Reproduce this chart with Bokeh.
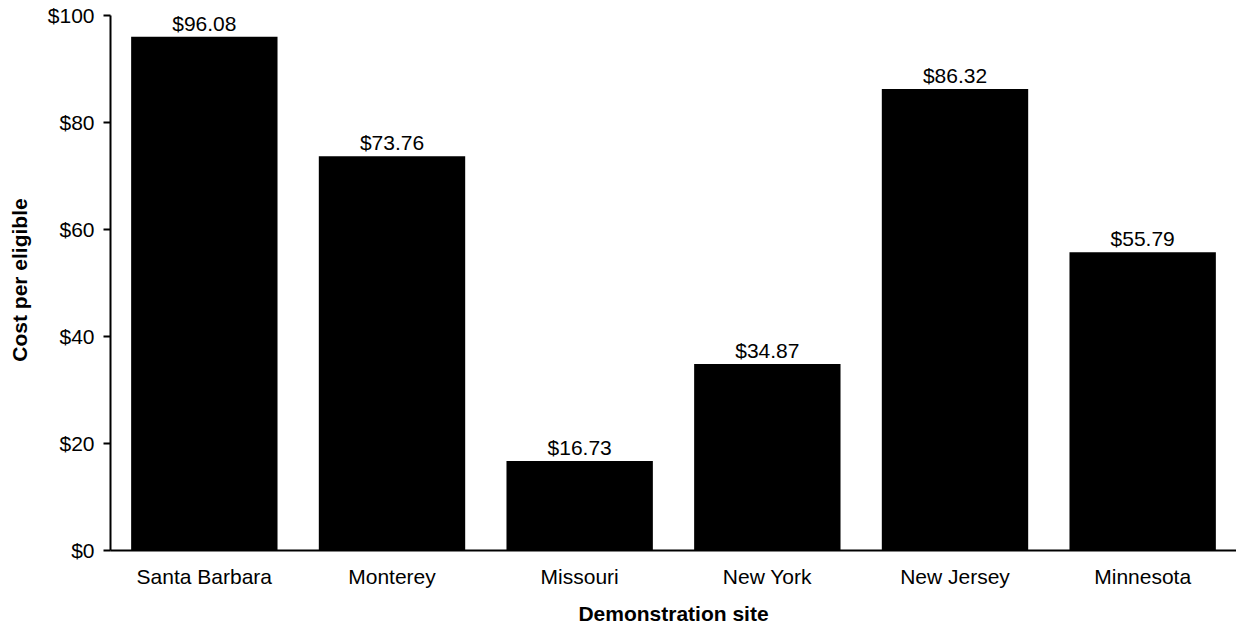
from bokeh.plotting import figure
from bokeh.models import ColumnDataSource, Range1d, FactorRange, NumeralTickFormatter, FixedTicker
from bokeh.embed import file_html
from bokeh.resources import INLINE
from bokeh.core.properties import value

sites = ["Santa Barbara", "Monterey", "Missouri", "New York", "New Jersey", "Minnesota"]
costs = [96.08, 73.76, 16.73, 34.87, 86.32, 55.79]
y_ticks = [0, 20, 40, 60, 80, 100]

labels = [f"${c:.2f}" for c in costs]
src = ColumnDataSource(dict(site=sites, cost=costs, label=labels))

FONT = "Liberation Sans"
FS = "21px"

p = figure(x_range=FactorRange(factors=sites), y_range=Range1d(0, 101.2),
           width=1236, height=634, output_backend="svg", toolbar_location=None,
           min_border_left=110, min_border_right=0, min_border_top=9, min_border_bottom=84)

p.vbar(x="site", top="cost", width=0.78, source=src, fill_color="black", line_color=None)
p.text(x="site", y="cost", text="label", source=src, text_align="center",
       text_baseline="bottom", y_offset=-2, text_font=value(FONT),
       text_font_size=FS, text_color="black")

p.outline_line_color = None
p.xgrid.grid_line_color = None
p.ygrid.grid_line_color = None

# y axis
ya = p.yaxis[0]
ya.ticker = FixedTicker(ticks=y_ticks)
ya.formatter = NumeralTickFormatter(format="$0")
ya.bounds = (0, 100)
ya.axis_line_width = 2
ya.axis_line_color = "black"
ya.major_tick_out = 7
ya.major_tick_in = 0
ya.major_tick_line_width = 2
ya.minor_tick_line_color = None
ya.major_label_standoff = 9
ya.major_label_text_font = FONT
ya.major_label_text_font_size = FS
ya.major_label_text_color = "black"
ya.axis_label = "Cost per eligible"
ya.axis_label_text_font = FONT
ya.axis_label_text_font_style = "bold"
ya.axis_label_text_font_size = FS
ya.axis_label_text_color = "black"
ya.axis_label_standoff = 14

# x axis
xa = p.xaxis[0]
xa.axis_line_width = 2
xa.axis_line_color = "black"
xa.major_tick_line_color = None
xa.minor_tick_line_color = None
xa.major_tick_out = 0
xa.major_label_standoff = 14
xa.major_label_text_font = FONT
xa.major_label_text_font_size = FS
xa.major_label_text_color = "black"
xa.axis_label = "Demonstration site"
xa.axis_label_text_font = FONT
xa.axis_label_text_font_style = "bold"
xa.axis_label_text_font_size = FS
xa.axis_label_text_color = "black"
xa.axis_label_standoff = 11

open("out.html", "w").write(file_html(p, INLINE))
